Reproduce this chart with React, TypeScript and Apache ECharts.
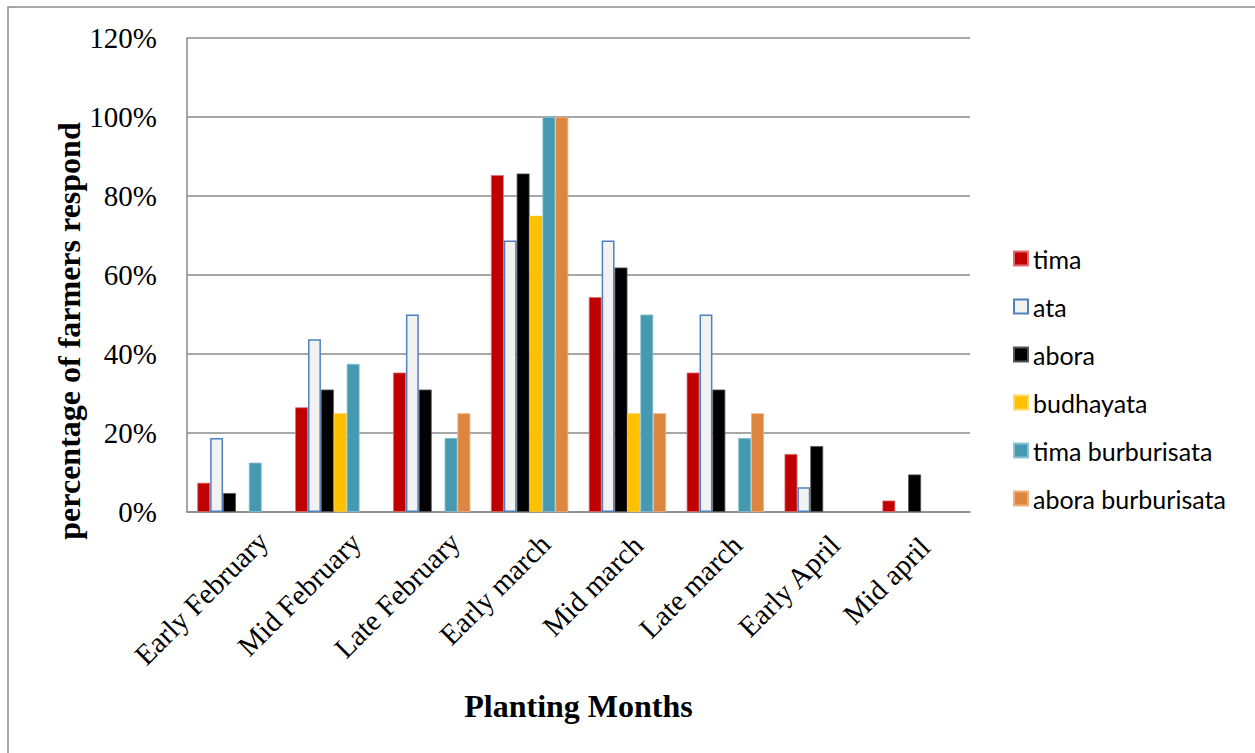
import { useEffect, useRef } from 'react';
import * as echarts from 'echarts';

const categories = ['Early February', 'Mid February', 'Late February', 'Early march', 'Mid march', 'Late march', 'Early April', 'Mid april'];
const seriesNames = ['tima', 'ata', 'abora', 'budhayata', 'tima burburisata', 'abora burburisata'];
const tima = [0.074, 0.265, 0.353, 0.853, 0.544, 0.353, 0.147, 0.029];
const ata = [0.1875, 0.4375, 0.5, 0.6875, 0.6875, 0.5, 0.0625, null];
const abora = [0.048, 0.31, 0.31, 0.857, 0.619, 0.31, 0.167, 0.095];
const budhayata = [null, 0.25, null, 0.75, 0.25, null, null, null];
const timaBurburisata = [0.125, 0.375, 0.1875, 1.0, 0.5, 0.1875, null, null];
const aboraBurburisata = [null, null, 0.25, 1.0, 0.25, 0.25, null, null];
const yTickValues = [0, 0.2, 0.4, 0.6, 0.8, 1.0, 1.2];

const seriesData = [tima, ata, abora, budhayata, timaBurburisata, aboraBurburisata];
const seriesStyles = [
  { color: '#C00000', borderColor: '#E07070', borderWidth: 0.8 },
  { color: '#F2F2F2', borderColor: '#4F81BD', borderWidth: 1.5 },
  { color: '#000000', borderColor: '#555555', borderWidth: 0.8 },
  { color: '#FFC000', borderColor: '#FFD966', borderWidth: 0.5 },
  { color: '#4599B1', borderColor: '#8CC3D3', borderWidth: 0.8 },
  { color: '#DD8640', borderColor: '#F0B080', borderWidth: 0.8 },
];

const LABEL_FONT_SIZE = 29;
const LABEL_FONT = `${LABEL_FONT_SIZE}px "Liberation Serif"`;

function measure(text: string): number {
  const c = document.createElement('canvas');
  const ctx = c.getContext('2d');
  if (!ctx) return text.length * LABEL_FONT_SIZE * 0.45;
  ctx.font = LABEL_FONT;
  return ctx.measureText(text).width;
}

export default function App() {
  const ref = useRef<HTMLDivElement>(null);
  useEffect(() => {
    const chart = echarts.init(ref.current!, null, { renderer: 'svg' });
    // Excel-like placement of 45° labels: longer labels sit further right and lower
    const categoryItems = categories.map((c) => {
      const w = measure(c);
      const along = 1.95 + 0.313 * (w - 109);
      const perp = 3.55 + 0.183 * (w - 109);
      return { value: c, textStyle: { padding: [2 * perp, -along, 0, 0] } };
    });
    chart.setOption({
      animation: false,
      backgroundColor: '#ffffff',
      grid: { left: 187, right: 285, top: 38, bottom: 241, containLabel: false },
      graphic: [
        {
          type: 'rect',
          shape: { x: 8, y: 7, width: 1300, height: 800 },
          style: { fill: 'none', stroke: '#8a8a8a', lineWidth: 1.5 },
          silent: true,
        },
        {
          type: 'text',
          x: 69,
          y: 331,
          rotation: Math.PI / 2,
          style: {
            text: 'percentage of farmers respond',
            fontFamily: 'Liberation Serif',
            fontWeight: 'bold',
            fontSize: 32,
            fill: '#000',
            align: 'center',
            verticalAlign: 'middle',
          },
          silent: true,
        },
      ],
      legend: {
        orient: 'vertical',
        left: 1013,
        top: 246,
        padding: 0,
        itemWidth: 14,
        itemHeight: 14,
        itemGap: 23,
        icon: 'rect',
        textStyle: { fontFamily: 'Lato', fontSize: 25, color: '#000' },
        data: seriesNames,
      },
      xAxis: {
        type: 'category',
        data: categoryItems,
        name: 'Planting Months',
        nameLocation: 'middle',
        nameGap: 178,
        nameTextStyle: { fontFamily: 'Liberation Serif', fontWeight: 'bold', fontSize: 32, color: '#000' },
        axisLine: { show: true, lineStyle: { color: '#8a8a8a', width: 1.5 } },
        axisTick: { show: false },
        axisLabel: {
          rotate: 45,
          margin: 29,
          interval: 0,
          fontFamily: 'Liberation Serif',
          fontSize: LABEL_FONT_SIZE,
          color: '#000',
          formatter: (v: string) => `{t|${v}}`,
          rich: {
            t: { fontFamily: 'Liberation Serif', fontSize: LABEL_FONT_SIZE, color: '#000' },
          },
        },
      },
      yAxis: {
        type: 'value',
        min: 0,
        max: 1.2,
        interval: 0.2,
        axisLine: { show: true, lineStyle: { color: '#8a8a8a', width: 1.5 } },
        axisTick: { show: false },
        splitLine: { show: true, lineStyle: { color: '#8a8a8a', width: 1.5 } },
        axisLabel: {
          margin: 30,
          fontFamily: 'Liberation Serif',
          fontSize: 29,
          color: '#000',
          customValues: yTickValues,
          formatter: (v: number) => `${Math.round(v * 100)}%`,
        },
      },
      series: seriesNames.map((name, i) => ({
        name,
        type: 'bar',
        data: seriesData[i],
        barGap: '0%',
        barCategoryGap: '21%',
        itemStyle: seriesStyles[i],
      })),
    });
    return () => chart.dispose();
  }, []);
  return (
    <div
      ref={ref}
      style={{ position: 'absolute', left: 0, top: 0, width: 1255, height: 753, background: '#fff' }}
    />
  );
}
